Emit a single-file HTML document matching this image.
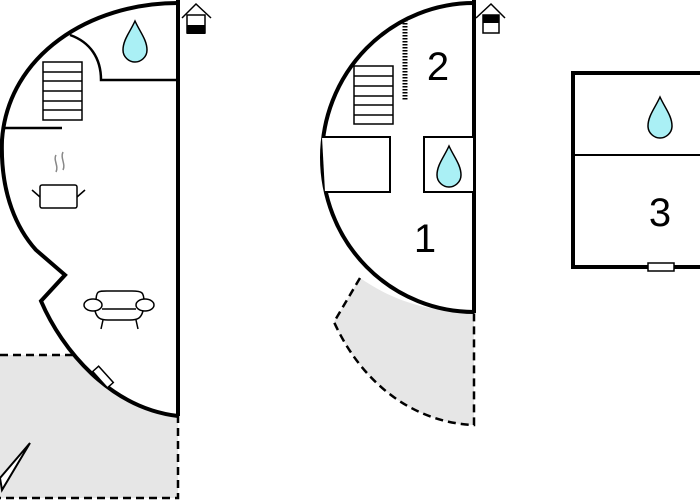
<!DOCTYPE html>
<html><head><style>html,body{margin:0;padding:0;background:#fff;}svg{display:block}</style></head>
<body>
<svg width="700" height="500" viewBox="0 0 700 500" xmlns="http://www.w3.org/2000/svg">
<defs>
<path id="drop" d="M0,-21 C5,-10 12,-2 12,8 C12,15 6,20 0,20 C-6,20 -12,15 -12,8 C-12,-2 -5,-10 0,-21Z" fill="#aaf0f5" stroke="#000" stroke-width="1.5"/>
</defs>
<!-- LEFT shaded -->
<path d="M0,355 L73,355 C100,385 130,405 178,415 L178,498 L0,498Z" fill="#e6e6e6"/>
<path d="M0,355 L73,355" stroke="#000" stroke-width="2.5" stroke-dasharray="8,5" fill="none"/>
<path d="M178,415 L178,498 L0,498" stroke="#000" stroke-width="2.5" stroke-dasharray="8,5" fill="none"/>
<path d="M30,443 L0,478 L2,490 Z" fill="#fff" stroke="#000" stroke-width="2"/>
<!-- LEFT plan -->
<path d="M178,3 C90,3 8,55 2,140 C0,195 18,230 36,250 L65,275 L41,301 C62,350 110,408 178,416" fill="#fff" stroke="#000" stroke-width="4"/>
<line x1="178" y1="0" x2="178" y2="416" stroke="#000" stroke-width="4"/>
<path d="M70,35 C90,42 101,58 101,80 L178,80" fill="none" stroke="#000" stroke-width="2.5"/>
<line x1="2" y1="128" x2="62" y2="128" stroke="#000" stroke-width="2.5"/>
<g stroke="#000" stroke-width="1.5" fill="none">
<rect x="43" y="62" width="39" height="58"/>
<line x1="43" y1="72" x2="82" y2="72"/><line x1="43" y1="81" x2="82" y2="81"/><line x1="43" y1="91" x2="82" y2="91"/><line x1="43" y1="101" x2="82" y2="101"/><line x1="43" y1="110" x2="82" y2="110"/>
<rect x="40" y="185" width="37" height="23" rx="2"/>
<line x1="32" y1="190" x2="40" y2="197"/><line x1="85" y1="190" x2="77" y2="197"/>
<path d="M56,155 C53,160 59,166 56,172 M63,152 C60,158 66,164 63,170" stroke="#888"/>
<path d="M96,302 C96,290 98,291 110,291 L132,291 C142,291 144,292 144,302"/>
<ellipse cx="93" cy="305" rx="9" ry="6" fill="#fff"/><ellipse cx="145" cy="305" rx="9" ry="6" fill="#fff"/>
<line x1="102" y1="309" x2="136" y2="309"/>
<path d="M95,311 C97,318 100,320 108,320 L130,320 C138,320 141,318 143,311"/>
<line x1="103" y1="320" x2="101" y2="329"/><line x1="136" y1="320" x2="138" y2="329"/>
</g>
<rect x="92" y="373" width="22" height="8" transform="rotate(48 103 377)" fill="#fff" stroke="#000" stroke-width="1.5"/>
<use href="#drop" x="135" y="42"/>
<g stroke="#000" stroke-width="1.5" fill="none">
<path d="M182,18 L196,4 L211,18"/><rect x="187" y="15" width="18" height="18" fill="#fff"/>
</g>
<rect x="187" y="25" width="18" height="9" fill="#000"/>
<!-- MIDDLE shaded -->
<path d="M360,278 C395,302 430,312 474,312 L474,425 C420,423 365,390 334,322Z" fill="#e6e6e6"/>
<path d="M360,278 L334,322 C365,390 420,423 474,425 L474,312" fill="none" stroke="#000" stroke-width="2.5" stroke-dasharray="8,5"/>
<path d="M474,3 A152,154.5 0 0 0 474,312" fill="#fff" stroke="#000" stroke-width="4"/>
<line x1="474" y1="0" x2="474" y2="313" stroke="#000" stroke-width="4"/>
<g stroke="#000" stroke-width="1.5" fill="none">
<rect x="354" y="66" width="39" height="58"/>
<line x1="354" y1="76" x2="393" y2="76"/><line x1="354" y1="86" x2="393" y2="86"/><line x1="354" y1="96" x2="393" y2="96"/><line x1="354" y1="105" x2="393" y2="105"/><line x1="354" y1="115" x2="393" y2="115"/>
</g>
<line x1="405" y1="20" x2="405" y2="100" stroke="#000" stroke-width="5" stroke-dasharray="1.5,1.5"/>
<path d="M322,137 L390,137 L390,192 L325,192" fill="#fff" stroke="#000" stroke-width="2"/>
<rect x="424" y="137" width="50" height="55" fill="#fff" stroke="#000" stroke-width="2"/>
<use href="#drop" x="449" y="167"/>
<text x="438" y="80" font-family="Liberation Sans, sans-serif" font-size="40" text-anchor="middle">2</text>
<text x="425" y="252" font-family="Liberation Sans, sans-serif" font-size="40" text-anchor="middle">1</text>
<g stroke="#000" stroke-width="1.5" fill="none">
<path d="M476,18 L491,4 L505,18"/><rect x="483" y="15" width="16" height="18" fill="#fff"/>
</g>
<rect x="483" y="15" width="16" height="8" fill="#000"/>
<!-- RIGHT -->
<rect x="573" y="73" width="140" height="194" fill="#fff" stroke="#000" stroke-width="4"/>
<line x1="573" y1="155" x2="700" y2="155" stroke="#000" stroke-width="2"/>
<use href="#drop" x="660" y="118"/>
<text x="660" y="226" font-family="Liberation Sans, sans-serif" font-size="40" text-anchor="middle">3</text>
<rect x="648" y="263" width="26" height="8" fill="#fff" stroke="#000" stroke-width="1.5"/>
</svg>
</body></html>
